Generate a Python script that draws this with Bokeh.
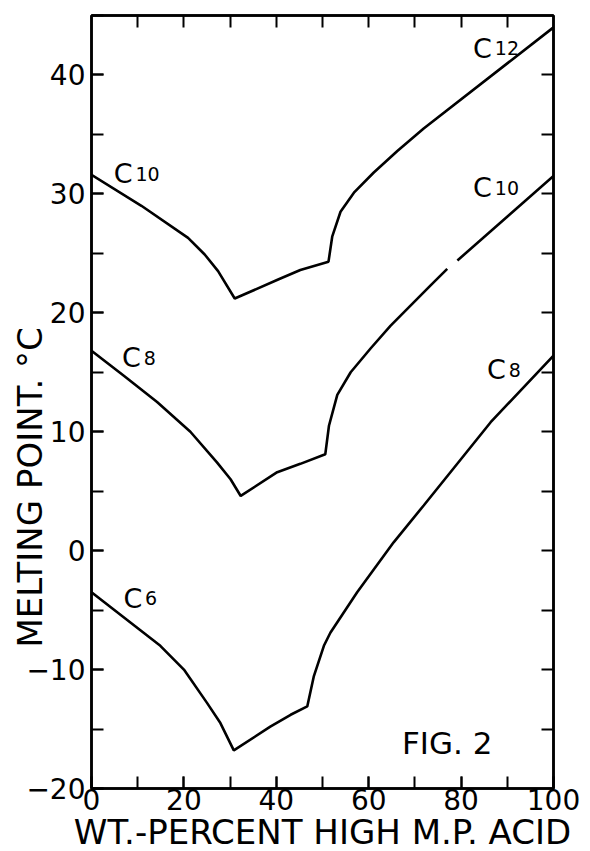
from bokeh.plotting import figure
from bokeh.models import Label, LinearAxis, SingleIntervalTicker, FixedTicker, Range1d, Title
from bokeh.embed import file_html
from bokeh.resources import INLINE

nan = float("nan")

# C10 - C12 system
c12_x = [0, 10.8, 20.9, 24.5, 27.4, 31.0, 40.4, 45.2, 51.3, 52.1, 53.9, 56.8, 61.1, 66.2, 71.9, 100]
c12_y = [31.6, 29.0, 26.3, 24.9, 23.5, 21.2, 22.8, 23.6, 24.3, 26.4, 28.5, 30.1, 31.8, 33.6, 35.5, 44.0]

# C8 - C10 system (small break in the printed line near 78 %)
c10_x = [0, 7.0, 14.2, 21.4, 27.2, 30.1, 32.3, 40.2, 45.2, 50.6, 51.4, 53.2, 56.1, 60.4, 64.7, 73.4, 77.0, nan, 79.2, 100]
c10_y = [16.8, 14.7, 12.5, 10.0, 7.4, 6.0, 4.6, 6.6, 7.3, 8.1, 10.5, 13.1, 15.0, 17.0, 18.9, 22.3, 23.7, nan, 24.4, 31.5]

# C6 - C8 system
c8_x = [0, 14.9, 20.0, 25.0, 27.9, 30.8, 38.7, 43.1, 46.7, 48.1, 50.3, 51.7, 57.5, 65.4, 71.9, 86.4, 100]
c8_y = [-3.5, -8.0, -10.0, -12.8, -14.5, -16.8, -14.8, -13.8, -13.1, -10.6, -8.0, -6.9, -3.5, 0.7, 3.8, 10.8, 16.4]

# tick positions
x_tick_marks = [10, 20, 30, 40, 50, 60, 70, 80, 90]
y_tick_marks = [-15, -10, -5, 0, 5, 10, 15, 20, 25, 30, 35, 40]

# curve labels: (x, y, letter, number)
curve_labels = [
    (4.8, 31.7, "C", "10"),
    (6.6, 16.2, "C", "8"),
    (6.9, -4.0, "C", "6"),
    (82.6, 42.25, "C", "12"),
    (82.6, 30.5, "C", "10"),
    (85.6, 15.2, "C", "8"),
]

FONT = "DejaVu Sans"

p = figure(width=590, height=851, x_range=Range1d(0, 100), y_range=Range1d(-20, 45),
           output_backend="svg", toolbar_location=None,
           min_border_left=91, min_border_right=37, min_border_top=15, min_border_bottom=63)
p.grid.visible = False
p.background_fill_color = "white"
p.border_fill_color = "white"
p.outline_line_color = "black"
p.outline_line_width = 2.5

def style_axis(ax):
    ax.axis_line_color = "black"
    ax.axis_line_width = 2.5
    ax.major_tick_in = 12
    ax.major_tick_out = 0
    ax.minor_tick_in = 12
    ax.minor_tick_out = 0
    ax.major_tick_line_width = 2
    ax.minor_tick_line_width = 2
    ax.major_tick_line_color = "black"
    ax.minor_tick_line_color = "black"
    ax.major_label_text_font = FONT
    ax.major_label_text_font_size = "28px"
    ax.major_label_text_color = "black"

p.xaxis.ticker = SingleIntervalTicker(interval=20, num_minor_ticks=2)
p.yaxis.ticker = SingleIntervalTicker(interval=10, num_minor_ticks=2)
style_axis(p.xaxis[0])
style_axis(p.yaxis[0])
p.xaxis.major_label_standoff = 0
p.yaxis.major_label_standoff = 6

top = LinearAxis(ticker=FixedTicker(ticks=[], minor_ticks=x_tick_marks))
right = LinearAxis(ticker=FixedTicker(ticks=[], minor_ticks=y_tick_marks))
style_axis(top)
style_axis(right)
p.add_layout(top, "above")
p.add_layout(right, "right")

ytitle = Title(text="MELTING POINT. °C", align="left", offset=141, vertical_align="bottom",
               text_font=FONT, text_font_size="34px", text_font_style="normal",
               text_color="black", standoff=-52)
p.add_layout(ytitle, "left")

xtitle = Title(text="WT.-PERCENT HIGH M.P. ACID", align="center", vertical_align="bottom",
               text_font=FONT, text_font_size="34px", text_font_style="normal",
               text_color="black", standoff=-6)
p.add_layout(xtitle, "below")

for xs, ys in [(c12_x, c12_y), (c10_x, c10_y), (c8_x, c8_y)]:
    p.line(xs, ys, line_color="black", line_width=2.6)

for x, y, big, small in curve_labels:
    p.add_layout(Label(x=x, y=y, text=big, text_font=FONT, text_font_size="27px",
                       text_baseline="alphabetic", text_color="black"))
    p.add_layout(Label(x=x + 4.7, y=y, text=small, text_font=FONT, text_font_size="19px",
                       text_baseline="alphabetic", text_color="black"))

p.add_layout(Label(x=67.2, y=-16.2, text="FIG. 2", text_font=FONT, text_font_size="31px",
                   text_baseline="alphabetic", text_color="black"))

open("out.html", "w").write(file_html(p, INLINE))
